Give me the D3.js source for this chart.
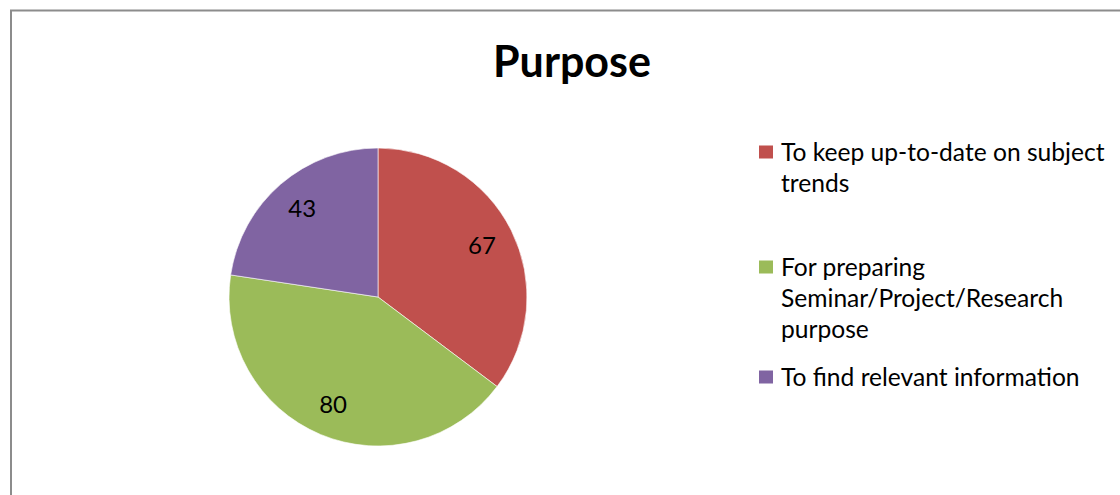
<!DOCTYPE html>
<html>
<head>
<meta charset="utf-8">
<script src="https://cdn.jsdelivr.net/npm/d3@7"></script>
<style>
  body { margin: 0; background: #fff; }
  text { font-family: Lato, "Open Sans", sans-serif; }
</style>
</head>
<body>
<script>
// data
const categories = [
  "To keep up-to-date on subject trends",
  "For preparing Seminar/Project/Research purpose",
  "To find relevant information"
];
const values = [67, 80, 43];
const colors = ["#C0504D", "#9BBB59", "#8064A2"];
// legend lines, wrapped like the original
const legendLines = [
  ["To keep up-to-date on subject", "trends"],
  ["For preparing", "Seminar/Project/Research", "purpose"],
  ["To find relevant information"]
];

const width = 1120, height = 495;

const svg = d3.select("body")
  .append("svg")
  .attr("width", width)
  .attr("height", height);

// chart border (runs off right and bottom)
svg.append("rect")
  .attr("x", 11)
  .attr("y", 10.5)
  .attr("width", width + 20)
  .attr("height", height + 20)
  .attr("fill", "none")
  .attr("stroke", "#8c8c8c")
  .attr("stroke-width", 2);

svg.append("text")
  .attr("x", 572)
  .attr("y", 77)
  .attr("text-anchor", "middle")
  .attr("font-size", 43)
  .attr("font-weight", "bold")
  .text("Purpose");

const cx = 378, cy = 297, r = 149;

const pie = d3.pie().sort(null).value(d => d);
const arcs = pie(values);
const arc = d3.arc().innerRadius(0).outerRadius(r);
const labelArc = d3.arc().innerRadius(r * 0.78).outerRadius(r * 0.78);

const g = svg.append("g").attr("transform", `translate(${cx},${cy})`);

g.selectAll("path")
  .data(arcs)
  .join("path")
  .attr("d", arc)
  .attr("fill", (d, i) => colors[i])
  .attr("stroke", "#fff")
  .attr("stroke-width", 0.6);

g.selectAll("text")
  .data(arcs)
  .join("text")
  .attr("transform", d => `translate(${labelArc.centroid(d)})`)
  .attr("text-anchor", "middle")
  .attr("dy", "0.35em")
  .attr("font-size", 24)
  .attr("fill", "#000")
  .text(d => d.data);

// legend
const legendY = [152, 267, 377];
const lineGap = 31;
const legend = svg.append("g");

categories.forEach((c, i) => {
  const item = legend.append("g").attr("transform", `translate(759,${legendY[i]})`);
  item.append("rect")
    .attr("x", 0)
    .attr("y", -6.5)
    .attr("width", 14)
    .attr("height", 13)
    .attr("fill", colors[i]);
  item.append("text")
    .attr("x", 22)
    .attr("y", 0)
    .attr("font-size", 24.6)
    .attr("fill", "#000")
    .selectAll("tspan")
    .data(legendLines[i])
    .join("tspan")
    .attr("x", 22)
    .attr("y", (d, j) => j * lineGap)
    .attr("dy", "0.35em")
    .text(d => d);
});
</script>
</body>
</html>
